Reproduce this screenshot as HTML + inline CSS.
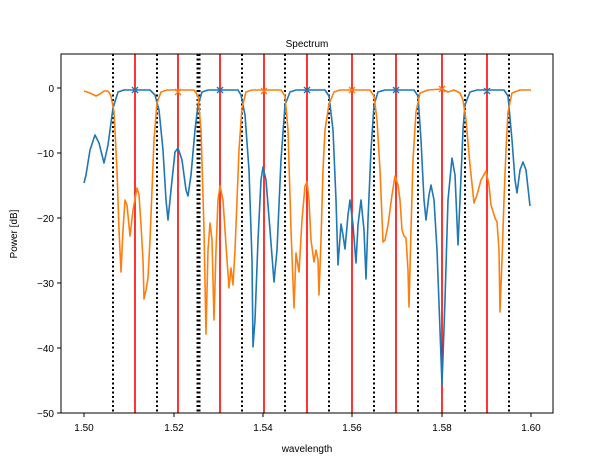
<!DOCTYPE html>
<html><head><style>body{margin:0;background:#fff}svg{display:block}text{font-family:"Liberation Sans","DejaVu Sans",sans-serif;font-size:10px;fill:#000}</style></head><body>
<svg width="614" height="460" viewBox="0 0 614 460">
<rect width="614" height="460" fill="#fff"/>
<text x="307" y="47" text-anchor="middle" font-size="10">Spectrum</text>
<g stroke="#000" stroke-width="2" stroke-dasharray="2,2.5">
<line x1="113" y1="54" x2="113" y2="413"/><line x1="157" y1="54" x2="157" y2="413"/><line x1="197.5" y1="54" x2="197.5" y2="413"/><line x1="199.5" y1="54" x2="199.5" y2="413"/><line x1="242" y1="54" x2="242" y2="413"/><line x1="285" y1="54" x2="285" y2="413"/><line x1="329" y1="54" x2="329" y2="413"/><line x1="374" y1="54" x2="374" y2="413"/><line x1="418" y1="54" x2="418" y2="413"/><line x1="465" y1="54" x2="465" y2="413"/><line x1="509" y1="54" x2="509" y2="413"/>
</g>
<g stroke="#ff0000" stroke-width="1.6">
<line x1="135" y1="54" x2="135" y2="413"/><line x1="178" y1="54" x2="178" y2="413"/><line x1="220" y1="54" x2="220" y2="413"/><line x1="264" y1="54" x2="264" y2="413"/><line x1="307" y1="54" x2="307" y2="413"/><line x1="352" y1="54" x2="352" y2="413"/><line x1="396" y1="54" x2="396" y2="413"/><line x1="442" y1="54" x2="442" y2="413"/><line x1="487" y1="54" x2="487" y2="413"/>
</g>
<polyline fill="none" stroke="#1f77b4" stroke-width="1.6" stroke-linejoin="round" points="84,183 86,175 90,150 95,135 99,143 104,163 108,145 113,108 118,92 124,90 150,90 155,95 159,110 163,150 166,200 168,220 171,190 175,152 178,148 182,160 186,190 188,196 191,175 195,130 198,105 202,92 208,90 238,90 241,95 245,115 249,170 252,260 253,347 255,320 258,240 261,180 263,167 266,180 270,230 274,282 277,250 281,160 285,105 290,92 296,90 325,90 329,96 333,130 336,200 338,265 341,224 343,235 345,249 348,215 350,200 353,225 356,263 358,225 361,200 364,230 366,279 368,220 371,150 374,105 378,92 385,90 414,90 418,96 421,140 424,200 426,220 429,195 431,185 434,200 437,250 440,330 442,385 445,300 448,200 452,158 455,175 458,245 460,200 463,130 465,105 470,92 477,90 504,90 508,96 512,140 515,180 517,193 520,170 523,162 526,170 530,206"/>
<polyline fill="none" stroke="#ff7f0e" stroke-width="1.6" stroke-linejoin="round" points="84,91 90,93 96,96 100,94 104,91 108,91 111,96 114,112 117,170 119,230 121,272 123,230 125,200 127,205 130,236 133,210 137,188 139,195 141,225 143,260 144,299 146,290 148,278 150,240 152,190 154,140 157,103 161,92 167,90 194,90 198,96 201,130 204,230 206,334 208,250 210,223 212,240 214,320 216,250 218,200 220,186 223,200 226,245 229,288 231,268 233,285 235,250 237,200 239,150 242,108 246,92 252,90 281,90 285,96 288,130 291,230 294,308 296,253 299,272 302,220 305,186 307,182 309,200 311,240 314,262 316,250 318,260 319,295 321,240 323,170 325,130 329,104 334,92 340,90 370,90 374,96 377,120 380,170 383,242 385,240 388,225 392,195 395,176 398,185 400,200 402,230 404,236 406,238 408,270 409,307 411,230 413,160 416,112 420,93 428,90 442,89 448,92 454,90 460,93 463,100 466,120 470,165 474,203 477,195 481,180 486,171 489,185 491,205 495,218 497,222 499,250 500,312 502,260 504,200 506,150 508,112 512,93 520,90 531,90"/>
<g stroke-width="1.4" fill="none">
<path stroke="#1f77b4" d="M132,87l6,6M138,87l-6,6M217,87l6,6M223,87l-6,6M304,87l6,6M310,87l-6,6M393,87l6,6M399,87l-6,6M484,88l6,6M490,88l-6,6"/>
<path stroke="#ff7f0e" d="M175,89l6,6M181,89l-6,6M261,88l6,6M267,88l-6,6M349,87l6,6M355,87l-6,6M439,86l6,6M445,86l-6,6"/>
</g>
<rect x="61" y="54" width="492" height="359" fill="none" stroke="#000" stroke-width="1"/>
<g stroke="#000" stroke-width="1">
<path d="M84,413v4M174,413v4M263,413v4M352,413v4M442,413v4M531,413v4M61,88h-4M61,153h-4M61,218h-4M61,283h-4M61,348h-4M61,413h-4"/>
</g>
<g text-anchor="middle">
<text x="84" y="431">1.50</text><text x="174" y="431">1.52</text><text x="263" y="431">1.54</text><text x="352" y="431">1.56</text><text x="442" y="431">1.58</text><text x="531" y="431">1.60</text>
<text x="307" y="452" font-size="11">wavelength</text>
</g>
<g text-anchor="end">
<text x="54" y="92">0</text><text x="54" y="157">−10</text><text x="54" y="222">−20</text><text x="54" y="287">−30</text><text x="54" y="352">−40</text><text x="54" y="417">−50</text>
</g>
<text x="0" y="0" font-size="11" text-anchor="middle" transform="translate(17,234) rotate(-90)">Power [dB]</text>
</svg>
</body></html>
